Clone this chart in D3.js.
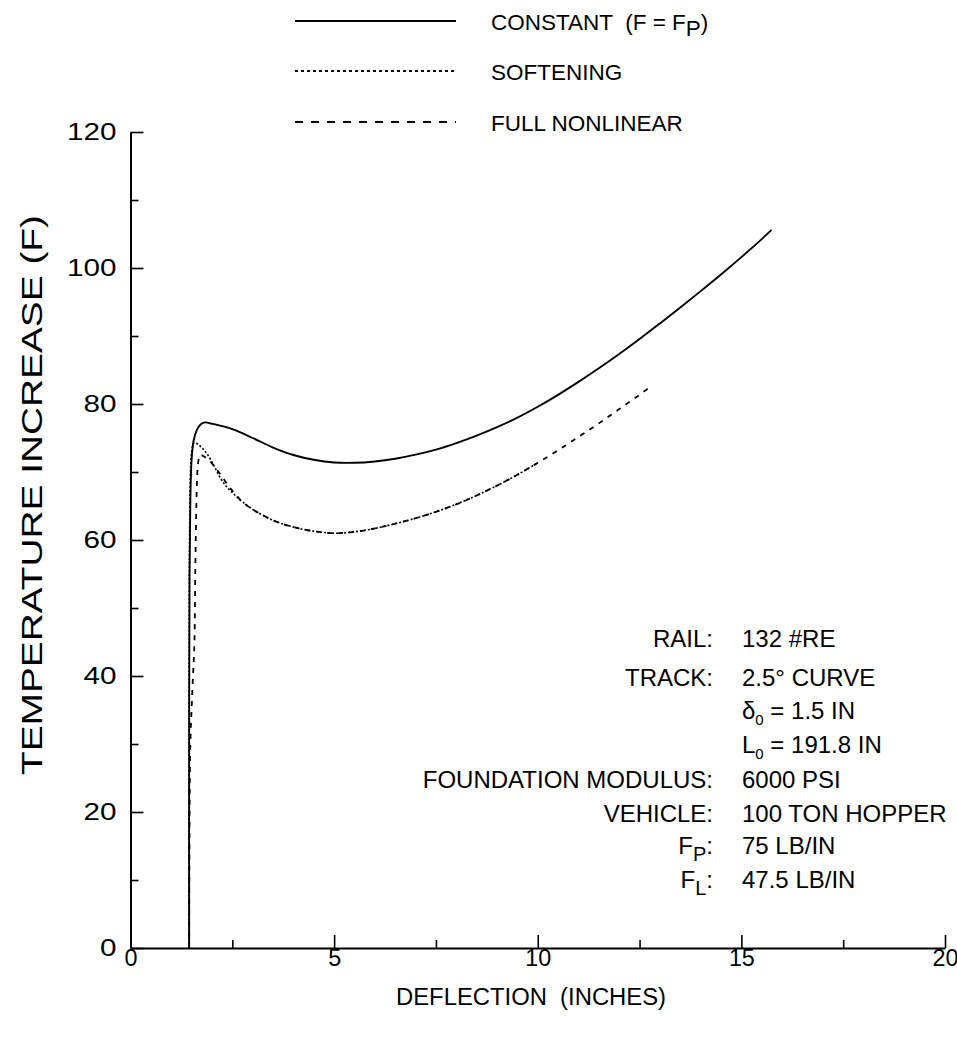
<!DOCTYPE html>
<html>
<head>
<meta charset="utf-8">
<script src="https://cdn.jsdelivr.net/npm/d3@7"></script>
<style>
  body { margin: 0; background: #fff; }
  svg { display: block; }
  text { font-family: "Liberation Sans", Arial, Helvetica, sans-serif; fill: #000; white-space: pre; }
</style>
</head>
<body>
<svg id="chart" width="957" height="1038"></svg>
<script>
// Deflection (in) and temperature increase (F) along each response curve
const constantDefl = [1.44, 1.44, 1.45, 1.47, 1.50, 1.55, 1.63, 1.72, 1.83, 2.0, 2.5, 3.0, 3.5, 4.0, 4.5, 5.0, 5.5, 6.0, 6.5, 7.0, 7.5, 8.0, 8.5, 9.0, 9.5, 10.0, 10.5, 11.0, 11.5, 12.0, 12.5, 13.0, 13.5, 14.0, 14.5, 15.0, 15.5, 15.74];
const constantTemp = [0, 30, 55, 66, 71.8, 74.6, 76.2, 77.0, 77.3, 77.1, 76.3, 75.0, 73.6, 72.5, 71.8, 71.4, 71.35, 71.55, 71.95, 72.55, 73.3, 74.25, 75.35, 76.6, 78.0, 79.6, 81.35, 83.25, 85.25, 87.35, 89.55, 91.85, 94.2, 96.6, 99.05, 101.6, 104.25, 105.6];

const softeningDefl = [1.44, 1.44, 1.45, 1.47, 1.50, 1.56, 1.65, 1.78, 1.9, 2.05, 2.2, 2.35, 2.53, 2.75, 3.0, 3.5, 4.0, 4.5, 5.0, 5.5, 6.0, 6.5, 7.0, 7.5, 8.0, 8.5, 9.0, 9.5, 10.0];
const softeningTemp = [0, 35, 60, 69, 72.8, 74.3, 74.1, 73.4, 72.5, 70.9, 69.2, 67.9, 66.8, 65.6, 64.5, 62.9, 61.9, 61.3, 61.0, 61.2, 61.7, 62.4, 63.2, 64.15, 65.25, 66.55, 68.0, 69.6, 71.35];

const nonlinearDefl = [1.44, 1.45, 1.47, 1.52, 1.57, 1.59, 1.61, 1.63, 1.66, 1.71, 1.8, 1.95, 2.1, 2.25, 2.4, 2.55, 2.75, 3.0, 3.5, 4.0, 4.5, 5.0, 5.5, 6.0, 6.5, 7.0, 7.5, 8.0, 8.5, 9.0, 9.5, 10.0, 10.5, 11.0, 11.5, 12.0, 12.5, 12.7];
const nonlinearTemp = [0, 20, 30, 38, 45, 55, 63, 68, 71.3, 72.5, 72.3, 71.6, 70.5, 69.3, 68.0, 66.9, 65.6, 64.5, 62.9, 61.9, 61.3, 61.0, 61.2, 61.7, 62.4, 63.2, 64.15, 65.25, 66.55, 68.0, 69.6, 71.35, 73.2, 75.15, 77.15, 79.25, 81.35, 82.25];

// Axis ticks
const xMajorTicks = [0, 5, 10, 15, 20];
const xMinorTicks = [2.5, 7.5, 12.5, 17.5];
const yMajorTicks = [0, 20, 40, 60, 80, 100, 120];
const yMinorTicks = [10, 30, 50, 70, 90, 110];

// Legend entries
const legendNames = ["CONSTANT  (F = F", "SOFTENING", "FULL NONLINEAR"];
const legendSubs = ["P", "", ""];
const legendTails = [")", "", ""];

// Case parameters
const paramLabels = ["RAIL:", "TRACK:", "", "", "FOUNDATION MODULUS:", "VEHICLE:", "F", "F"];
const paramLabelSubs = ["", "", "", "", "", "", "P", "L"];
const paramValues = ["132 #RE", "2.5° CURVE", "δ", "L", "6000 PSI", "100 TON HOPPER", "75 LB/IN", "47.5 LB/IN"];
const paramValueSubs = ["", "", "0", "0", "", "", "", ""];
const paramValueTails = ["", "", " = 1.5 IN", " = 191.8 IN", "", "", "", ""];

const svg = d3.select("#chart");

const x = d3.scaleLinear().domain([0, 20]).range([130.5, 945]);
const y = d3.scaleLinear().domain([0, 120]).range([948, 132]);

// Y axis: major ticks with labels, then minor ticks
const yAxis = svg.append("g")
  .attr("transform", `translate(${x(0)},0)`)
  .call(d3.axisLeft(y).tickValues(yMajorTicks).tickSize(-13).tickSizeOuter(0).tickPadding(14).tickFormat(d3.format("d")));
svg.append("g")
  .attr("transform", `translate(${x(0)},0)`)
  .call(d3.axisLeft(y).tickValues(yMinorTicks).tickSize(-8).tickFormat(""))
  .call(g => g.select(".domain").remove());

// X axis
const xAxis = svg.append("g")
  .attr("transform", `translate(0,${y(0)})`)
  .call(d3.axisBottom(x).tickValues(xMajorTicks).tickSize(-13).tickSizeOuter(0).tickPadding(2).tickFormat(d3.format("d")));
svg.append("g")
  .attr("transform", `translate(0,${y(0)})`)
  .call(d3.axisBottom(x).tickValues(xMinorTicks).tickSize(-8).tickFormat(""))
  .call(g => g.select(".domain").remove());

svg.selectAll(".domain").attr("stroke", "#000").attr("stroke-width", 2);
svg.selectAll(".tick line").attr("stroke", "#000").attr("stroke-width", 1.6);
const styleTickText = (g, digitWidth) => g.selectAll(".tick text")
  .attr("font-size", 23)
  .attr("font-family", "Liberation Sans, Arial, sans-serif")
  .attr("fill", "#000")
  .attr("lengthAdjust", "spacingAndGlyphs")
  .attr("textLength", function () { return this.textContent.length * digitWidth; });
styleTickText(yAxis, 16.5);
styleTickText(xAxis, 13);

// Axis titles
svg.append("text")
  .attr("transform", "translate(42,495) rotate(-90)")
  .attr("text-anchor", "middle")
  .attr("font-size", 30)
  .attr("textLength", 560)
  .attr("lengthAdjust", "spacingAndGlyphs")
  .text("TEMPERATURE INCREASE (F)");

svg.append("text")
  .attr("x", 531).attr("y", 1005)
  .attr("text-anchor", "middle")
  .attr("font-size", 23)
  .attr("font-weight", 300)
  .attr("textLength", 270)
  .attr("lengthAdjust", "spacingAndGlyphs")
  .text("DEFLECTION  (INCHES)");

// Curves
const pts = (xs, ys) => xs.map((v, i) => [v, ys[i]]);
const curveLine = d3.line().x(d => x(d[0])).y(d => y(d[1])).curve(d3.curveCatmullRom.alpha(0.5));

const curveStyles = [
  { xs: softeningDefl, ys: softeningTemp, dash: "2,2", width: 1.6 },
  { xs: nonlinearDefl, ys: nonlinearTemp, dash: "5,6", width: 1.8 },
  { xs: constantDefl, ys: constantTemp, dash: null, width: 1.9 }
];
svg.append("g").selectAll("path")
  .data(curveStyles)
  .join("path")
  .attr("d", c => curveLine(pts(c.xs, c.ys)))
  .attr("fill", "none")
  .attr("stroke", "#000")
  .attr("stroke-width", c => c.width)
  .attr("stroke-dasharray", c => c.dash)
  .attr("stroke-linejoin", "round");

// Legend
const legendDash = [null, "3,3", "8,8"];
const legendY = [21, 71, 122];
const legend = svg.append("g");
legendNames.forEach((name, i) => {
  legend.append("line")
    .attr("x1", 295).attr("x2", 456)
    .attr("y1", legendY[i]).attr("y2", legendY[i])
    .attr("stroke", "#000").attr("stroke-width", 1.8)
    .attr("stroke-dasharray", legendDash[i]);
  const t = legend.append("text")
    .attr("x", 491).attr("y", legendY[i] + 8.5)
    .attr("font-size", 22.5);
  t.append("tspan").text(name);
  if (legendSubs[i]) {
    t.append("tspan").attr("dy", 6).text(legendSubs[i]);
    t.append("tspan").attr("dy", -6).text(legendTails[i]);
  }
});

// Parameter block
const paramBase = [647, 686, 719, 753, 788, 822, 854, 888];
const params = svg.append("g").attr("font-size", 24);
paramLabels.forEach((lab, i) => {
  if (lab) {
    const t = params.append("text")
      .attr("x", 713).attr("y", paramBase[i])
      .attr("text-anchor", "end");
    t.append("tspan").text(lab);
    if (paramLabelSubs[i]) {
      t.append("tspan").attr("dy", 7).attr("font-size", 20).text(paramLabelSubs[i]);
      t.append("tspan").attr("dy", -7).text(":");
    }
  }
  const v = params.append("text")
    .attr("x", 742).attr("y", paramBase[i]);
  v.append("tspan").text(paramValues[i]);
  if (paramValueSubs[i]) {
    v.append("tspan").attr("dy", 6).attr("font-size", 15).text(paramValueSubs[i]);
    v.append("tspan").attr("dy", -6).text(paramValueTails[i]);
  }
});
</script>
</body>
</html>
